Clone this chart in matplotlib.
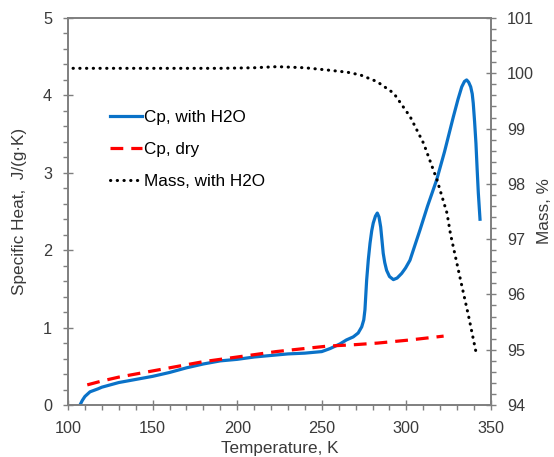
import numpy as np
import matplotlib
matplotlib.use('Agg')
import matplotlib.pyplot as plt
from matplotlib.ticker import MultipleLocator

matplotlib.rcParams['font.family'] = ['Liberation Sans', 'DejaVu Sans']

# Cp with water, J/(g K)
T_wet = [107.1, 108.5, 110, 113, 117.9, 120, 130, 140, 150, 160, 170, 180, 190, 200,
         210, 220, 230, 240, 250, 255, 260.8, 264.5, 268.6, 271.5, 273.6, 274.8, 275.5,
         276.5, 277.5, 278.5, 279.5, 280.4, 281.7, 282.8, 283.8, 284.8, 285.6, 286.3,
         287.2, 288.3, 290, 292.3, 294.5, 297.2, 299.5, 302.1, 308, 312.5, 317.9,
         322.5, 327.7, 330.5, 332.7, 334.3, 335.6, 336.8, 338, 338.9, 339.5, 340.3,
         341.1, 341.8, 342.5, 343.5]
cp_wet = [0.0, 0.06, 0.11, 0.17, 0.21, 0.23, 0.29, 0.33, 0.37, 0.42, 0.48, 0.53, 0.57,
          0.59, 0.62, 0.64, 0.66, 0.67, 0.69, 0.73, 0.79, 0.84, 0.88, 0.93, 1.01, 1.10,
          1.23, 1.61, 1.88, 2.09, 2.25, 2.35, 2.44, 2.48, 2.43, 2.30, 2.12, 1.96, 1.84,
          1.74, 1.66, 1.62, 1.64, 1.70, 1.77, 1.87, 2.26, 2.57, 2.91, 3.27, 3.72, 3.95,
          4.11, 4.18, 4.20, 4.17, 4.11, 4.02, 3.90, 3.66, 3.38, 3.05, 2.74, 2.40]

# Cp dry
T_dry = [111.4, 120, 130, 140, 150, 160, 170, 180, 190, 200, 210, 223, 240, 253, 270,
         283, 302, 322]
cp_dry = [0.26, 0.31, 0.36, 0.40, 0.44, 0.48, 0.52, 0.56, 0.59, 0.62, 0.65, 0.69, 0.73,
          0.76, 0.78, 0.80, 0.84, 0.89]

# Mass, %
T_mass = [103, 130, 150, 170, 190, 210, 223.5, 240, 253, 265, 272.8, 282.6, 292.5, 302.3,
          310.2, 318.1, 324, 326, 332, 336.8, 341.1]
mass = [100.09, 100.09, 100.09, 100.09, 100.09, 100.1, 100.12, 100.1, 100.06, 100.02,
        99.97, 99.85, 99.64, 99.21, 98.73, 98.07, 97.47, 97.10, 96.26, 95.60, 94.96]

fig = plt.figure(figsize=(5.54, 4.57), dpi=100)
ax = fig.add_axes([0.1227, 0.1138, 0.7636, 0.8468])
ax2 = ax.twinx()

l1, = ax.plot(T_wet, cp_wet, '-', color='#0a72c8', lw=2.3, label='Cp, with H2O',
              solid_joinstyle='round')
l2, = ax.plot(T_dry, cp_dry, '--', color='#ff0000', lw=2.3, dashes=(4, 2.5),
              label='Cp, dry')
l3, = ax2.plot(T_mass, mass, color='black', lw=2.2, dashes=(0.1, 2.1),
               dash_capstyle='round', label='Mass, with H2O')

ax.set_xlim(100, 350)
ax.set_ylim(0, 5)
ax2.set_ylim(94, 101)
ax.xaxis.set_major_locator(MultipleLocator(50))
ax.xaxis.set_minor_locator(MultipleLocator(10))
ax.yaxis.set_major_locator(MultipleLocator(1))
ax.yaxis.set_minor_locator(MultipleLocator(0.2))
ax2.yaxis.set_major_locator(MultipleLocator(1))
ax2.yaxis.set_minor_locator(MultipleLocator(0.2))

spine_c = '#7f7f7f'
txt_c = '#3a3a3a'
for a in (ax, ax2):
    for s in a.spines.values():
        s.set_color(spine_c)
        s.set_linewidth(1.2)
    a.tick_params(which='major', direction='inout', length=7, width=1.0, color=spine_c,
                  labelsize=11.7, labelcolor=txt_c, pad=8)
    a.tick_params(which='minor', direction='out', length=3.5, width=1.0, color=spine_c)

ax.set_xlabel('Temperature, K', fontsize=12.3, color=txt_c)
ax.set_ylabel('Specific Heat,  J/(g\u00b7K)', fontsize=12.3, color=txt_c)
ax2.set_ylabel('Mass, %', fontsize=12.3, color=txt_c)
ax.xaxis.set_label_coords(0.5, -0.093)
ax.yaxis.set_label_coords(-0.097, 0.5)
ax2.yaxis.set_label_coords(1.108, 0.5)

ax.legend(handles=[l1, l2, l3], loc='upper left', bbox_to_anchor=(0.099, 0.762),
          frameon=False, fontsize=12.3, handlelength=1.9, handletextpad=0.1,
          labelspacing=0.98, borderpad=0, borderaxespad=0, labelcolor='black')

fig.savefig('out.png', dpi=100)
